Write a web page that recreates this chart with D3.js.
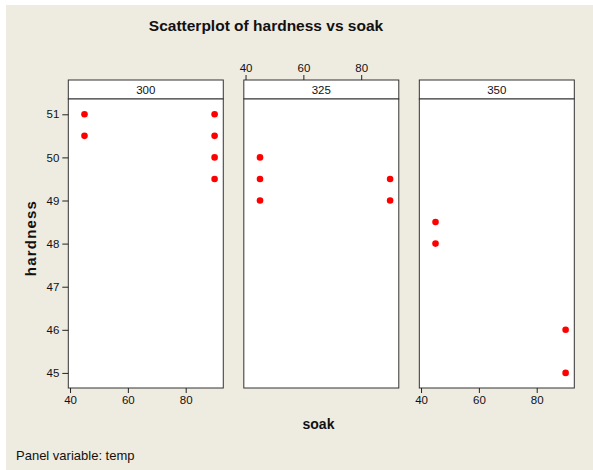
<!DOCTYPE html>
<html>
<head>
<meta charset="utf-8">
<script src="https://cdn.jsdelivr.net/npm/d3@7"></script>
<style>
  html, body { margin: 0; padding: 0; background: #fff; }
  svg text { font-family: "Liberation Sans", Arial, sans-serif; fill: #111; }
</style>
</head>
<body>
<svg id="chart" width="593" height="470"></svg>
<script>
// panel variable values
const temps = [300, 325, 350]
// one entry per observation
const temp     = [300, 300, 300, 300, 300, 300, 325, 325, 325, 325, 325, 350, 350, 350, 350]
const soak     = [45, 45, 90, 90, 90, 90, 45, 45, 45, 90, 90, 45, 45, 90, 90]
const hardness = [51, 50.5, 51, 50.5, 50, 49.5, 50, 49.5, 49, 49.5, 49, 48.5, 48, 46, 45]
const xTicks = [40, 60, 80]
const yTicks = [45, 46, 47, 48, 49, 50, 51]

const svg = d3.select("#chart")

// beige frame
svg.append("rect")
  .attr("x", 6).attr("y", 5)
  .attr("width", 587).attr("height", 465)
  .attr("fill", "#eeebe1")

const plotTop = 99, plotBottom = 388, stripTop = 80

const panel = d3.scaleBand().domain(temps).range([68.3, 574.3]).paddingInner(0.117)
const x = d3.scaleLinear().domain([39.4, 93.0]).range([0, panel.bandwidth()])
const y = d3.scaleLinear().domain([44.65, 51.355]).range([plotBottom, plotTop])

svg.append("text")
  .attr("x", 266).attr("y", 31)
  .attr("text-anchor", "middle")
  .style("font-size", "15.5px").style("font-weight", "bold")
  .text("Scatterplot of hardness vs soak")

const g = svg.selectAll(".panel")
  .data(temps)
  .enter().append("g")
  .attr("class", "panel")
  .attr("transform", d => "translate(" + panel(d) + ",0)")

// strip with panel value
g.append("rect")
  .attr("y", stripTop)
  .attr("width", panel.bandwidth())
  .attr("height", plotTop - stripTop)
  .attr("fill", "#fff").attr("stroke", "#333").attr("stroke-width", 1)

g.append("text")
  .attr("x", panel.bandwidth() / 2)
  .attr("y", (stripTop + plotTop) / 2)
  .attr("dy", ".35em")
  .attr("text-anchor", "middle")
  .style("font-size", "11.5px")
  .text(d => d)

g.append("rect")
  .attr("y", plotTop)
  .attr("width", panel.bandwidth())
  .attr("height", plotBottom - plotTop)
  .attr("fill", "#fff").attr("stroke", "#333").attr("stroke-width", 1)

// points
g.each(function (t) {
  const idx = d3.range(temp.length).filter(i => temp[i] === t)
  d3.select(this).selectAll("circle")
    .data(idx)
    .enter().append("circle")
    .attr("cx", i => x(soak[i]))
    .attr("cy", i => y(hardness[i]))
    .attr("r", 3.3)
    .attr("fill", "#ff0000")
})

function styleAxis(sel) {
  sel.select(".domain").remove()
  sel.selectAll(".tick line").attr("stroke", "#222")
  sel.selectAll(".tick text").style("font-size", "11.5px").attr("fill", "#222")
}

// x axes: bottom on outer panels, top on the middle one
g.filter((d, i) => i !== 1).append("g")
  .attr("transform", "translate(0," + plotBottom + ")")
  .call(d3.axisBottom(x).tickValues(xTicks).tickFormat(d3.format("d")).tickSize(5).tickPadding(3))
  .call(styleAxis)

g.filter((d, i) => i === 1).append("g")
  .attr("transform", "translate(0," + stripTop + ")")
  .call(d3.axisTop(x).tickValues(xTicks).tickFormat(d3.format("d")).tickSize(5).tickPadding(3))
  .call(styleAxis)

// y axis on first panel
svg.append("g")
  .attr("transform", "translate(" + panel(temps[0]) + ",0)")
  .call(d3.axisLeft(y).tickValues(yTicks).tickFormat(d3.format("d")).tickSize(6).tickPadding(3))
  .call(styleAxis)

svg.append("text")
  .attr("transform", "translate(36,238)rotate(-90)")
  .attr("text-anchor", "middle")
  .style("font-size", "15px").style("font-weight", "bold")
  .style("letter-spacing", "1.2px")
  .text("hardness")

svg.append("text")
  .attr("x", 318.5).attr("y", 429)
  .attr("text-anchor", "middle")
  .style("font-size", "14px").style("font-weight", "bold")
  .text("soak")

svg.append("text")
  .attr("x", 16).attr("y", 459.5)
  .style("font-size", "13px")
  .text("Panel variable: temp")
</script>
</body>
</html>
